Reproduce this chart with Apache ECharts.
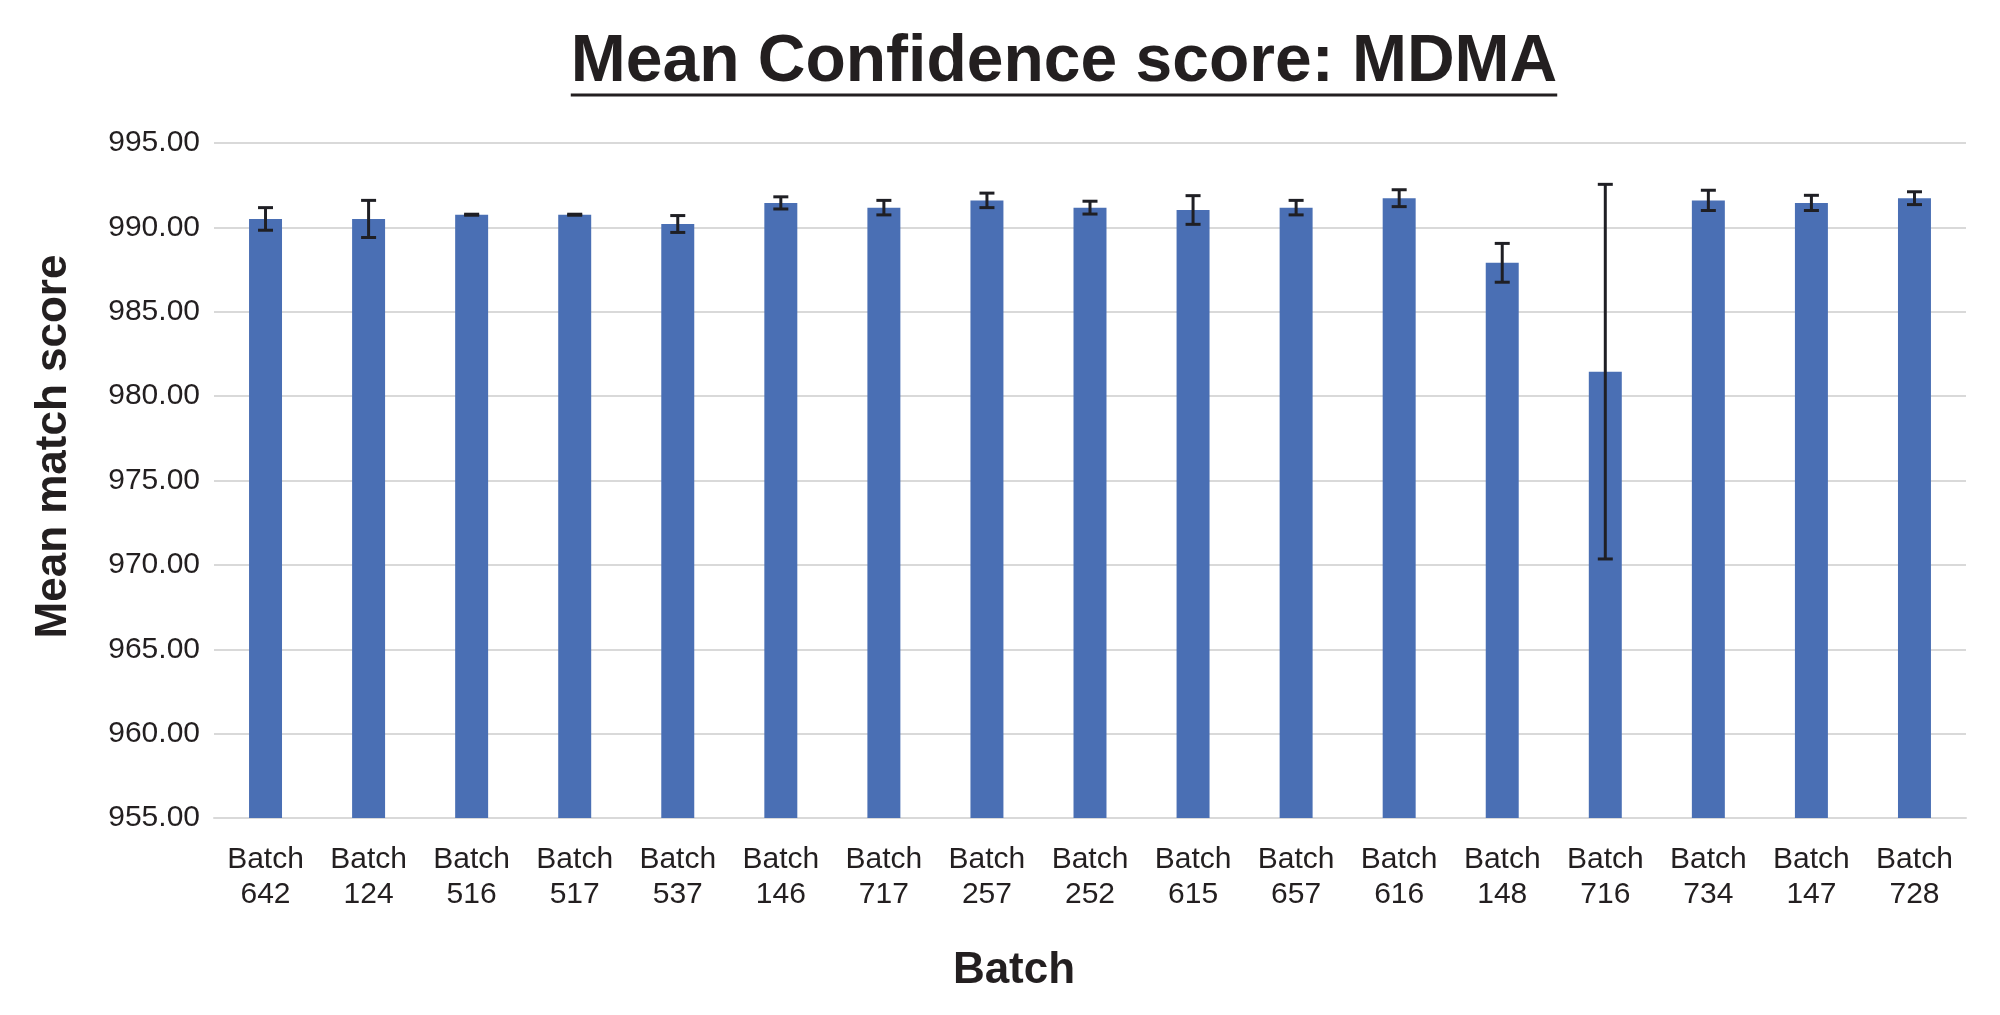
<!DOCTYPE html>
<html>
<head>
<meta charset="utf-8">
<script src="https://cdn.jsdelivr.net/npm/echarts@6/dist/echarts.min.js"></script>
<style>
  html, body { margin: 0; padding: 0; background: #fff; }
  #chart { width: 2000px; height: 1015px; }
</style>
</head>
<body>
<div id="chart"></div>
<script>
// data
var batches = ["642", "124", "516", "517", "537", "146", "717", "257", "252",
  "615", "657", "616", "148", "716", "734", "147", "728"];
var means = [990.50, 990.50, 990.75, 990.75, 990.20, 991.45, 991.17, 991.60, 991.17,
  991.03, 991.17, 991.73, 987.90, 981.45, 991.60, 991.45, 991.73];
var errors = [0.67, 1.10, 0.03, 0.03, 0.50, 0.36, 0.43, 0.43, 0.38,
  0.85, 0.43, 0.50, 1.15, 11.10, 0.60, 0.45, 0.38];

var titleText = "Mean Confidence score: MDMA";
var fontFam = "'Liberation Sans', Arial, sans-serif";

var categories = batches.map(function (b) { return "Batch\n" + b; });
var errData = means.map(function (m, i) { return [i, m - errors[i], m + errors[i]]; });

// measure title so the underline fits it
var ctx = document.createElement("canvas").getContext("2d");
ctx.font = "bold 66px " + fontFam;
var titleW = ctx.measureText(titleText).width;
var titleLeft = 1064 - titleW / 2;

var myChart = echarts.init(document.getElementById("chart"));

var option = {
  backgroundColor: "#ffffff",
  animation: false,
  title: {
    text: titleText,
    left: titleLeft,
    top: 30,
    padding: 0,
    textStyle: { fontFamily: fontFam, fontSize: 66, fontWeight: "bold", color: "#231f20" }
  },
  graphic: [{
    type: "line",
    shape: { x1: titleLeft, y1: 95, x2: titleLeft + titleW, y2: 95 },
    style: { stroke: "#231f20", lineWidth: 3 }
  }],
  grid: { left: 214, right: 34, top: 143, bottom: 197 },
  xAxis: {
    type: "category",
    data: categories,
    name: "Batch",
    nameLocation: "middle",
    nameGap: 131,
    nameTextStyle: {
      fontFamily: fontFam, fontSize: 44, fontWeight: "bold", color: "#231f20",
      padding: [0, 152, 0, 0]
    },
    axisLine: { lineStyle: { color: "#d9d9d9", width: 2 } },
    axisTick: { show: false },
    axisLabel: {
      fontFamily: fontFam, fontSize: 30, color: "#231f20",
      lineHeight: 35, margin: 24, interval: 0
    }
  },
  yAxis: {
    type: "value",
    min: 955,
    max: 995,
    interval: 5,
    name: "Mean match score",
    nameLocation: "middle",
    nameGap: 138,
    nameRotate: 90,
    nameTextStyle: {
      fontFamily: fontFam, fontSize: 44, fontWeight: "bold", color: "#231f20",
      padding: [0, 0, 0, 68]
    },
    axisLine: { show: false },
    axisTick: { show: false },
    splitLine: { lineStyle: { color: "#d9d9d9", width: 2 } },
    axisLabel: {
      fontFamily: fontFam, fontSize: 30, color: "#231f20", margin: 14,
      formatter: function (v) { return v.toFixed(2); }
    }
  },
  series: [
    {
      name: "Mean",
      type: "bar",
      barWidth: "32%",
      itemStyle: { color: "#4a6fb4" },
      data: means
    },
    {
      name: "Error",
      type: "custom",
      z: 10,
      data: errData,
      renderItem: function (params, api) {
        var x = api.value(0);
        var lo = api.coord([x, api.value(1)]);
        var hi = api.coord([x, api.value(2)]);
        var hw = 7.5;
        var st = { stroke: "#1f1f24", lineWidth: 3 };
        return {
          type: "group",
          children: [
            { type: "line", shape: { x1: hi[0], y1: hi[1], x2: lo[0], y2: lo[1] }, style: st },
            { type: "line", shape: { x1: hi[0] - hw, y1: hi[1], x2: hi[0] + hw, y2: hi[1] }, style: st },
            { type: "line", shape: { x1: lo[0] - hw, y1: lo[1], x2: lo[0] + hw, y2: lo[1] }, style: st }
          ]
        };
      }
    }
  ]
};

myChart.setOption(option);
</script>
</body>
</html>
